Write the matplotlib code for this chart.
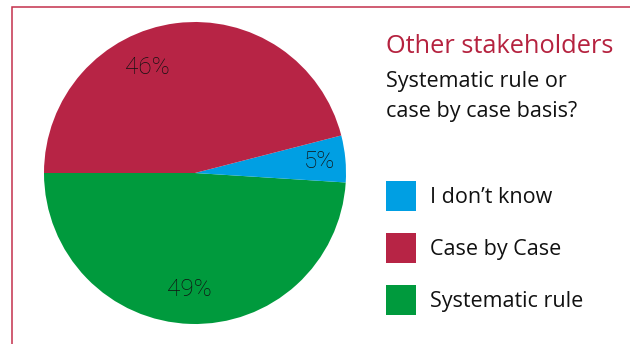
import matplotlib
matplotlib.use("Agg")
import matplotlib.pyplot as plt
from matplotlib.patches import Rectangle

# data (order = counterclockwise from the left side of the pie)
slice_names = ["Systematic rule", "I don't know", "Case by Case"]
slice_values = [49, 5, 46]
slice_colors = ["#009A3D", "#009FE3", "#B72445"]

legend_labels = ["I don\u2019t know", "Case by Case", "Systematic rule"]
legend_colors = ["#009FE3", "#B72445", "#009A3D"]

title = "Other stakeholders"
subtitle = ["Systematic rule or", "case by case basis?"]

W, H = 630, 344


def py(y):
    # pixel row (from top) -> data y
    return H - y


fig = plt.figure(figsize=(W / 100, H / 100), dpi=100)
ax = fig.add_axes([0, 0, 1, 1])

# frame (only left and top edges visible)
ax.add_patch(Rectangle((12, py(400)), 700, 393, fill=False,
                       edgecolor="#C4304B", linewidth=1.1))

# pie
cx, cy, r = 195, py(173), 151
ax.pie(slice_values, colors=slice_colors, startangle=180, counterclock=True,
       center=(cx, cy), radius=r, frame=True,
       wedgeprops=dict(linewidth=0))
ax.set_xlim(0, W)
ax.set_ylim(0, H)
ax.set_aspect("equal")
ax.axis("off")

# percentage labels
pct_pos = [(189, 289), (319, 162), (147, 68)]
for v, (x, y) in zip(slice_values, pct_pos):
    ax.text(x, py(y), f"{v}%", ha="center", va="center", fontsize=17.5,
            family="Roboto", fontweight="light", color="#111111")

# title block
ax.text(386, py(53), title, fontsize=18.3, family="Open Sans",
        color="#B5223F", va="baseline", ha="left")
for i, line in enumerate(subtitle):
    ax.text(386, py(87 + 30 * i), line, fontsize=15.5, family="Open Sans",
            color="#111111", va="baseline", ha="left")

# legend
sq_top = [181, 233, 285]
for lab, col, top in zip(legend_labels, legend_colors, sq_top):
    ax.add_patch(Rectangle((386, py(top + 30)), 30, 30, color=col, linewidth=0))
    ax.text(430, py(top + 22), lab, fontsize=15.5, family="Open Sans",
            color="#111111", va="baseline", ha="left")

fig.savefig("out.png", dpi=100)
